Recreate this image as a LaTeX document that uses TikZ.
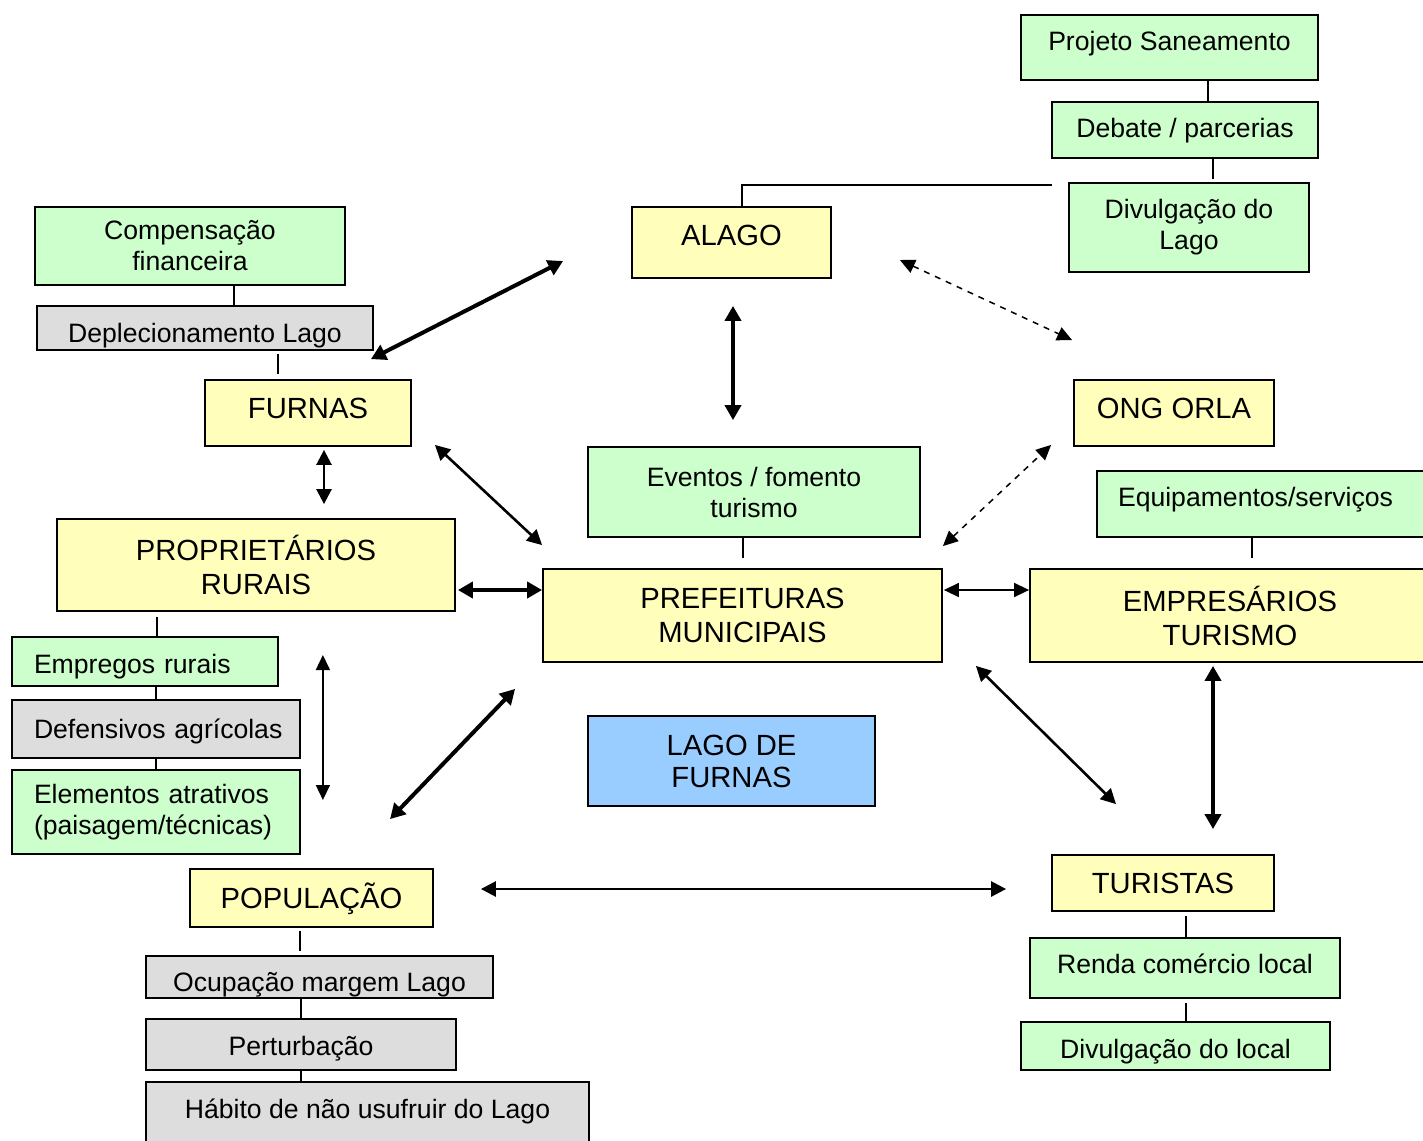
\documentclass[tikz,border=0pt]{standalone}
\usepackage{fontspec}
\setmainfont{Liberation Sans}
\usetikzlibrary{arrows.meta,calc}
\definecolor{verde}{HTML}{CCFFCC}
\definecolor{amarelo}{HTML}{FFFFBB}
\definecolor{cinza}{HTML}{DDDDDD}
\definecolor{azul}{HTML}{99CCFF}

\begin{document}
\begin{tikzpicture}[x=0.5pt, y=-0.5pt,
    box/.style={rectangle, draw, line width=0.9pt, inner sep=0pt, align=center},
    actor/.style={box, fill=amarelo, font=\fontsize{14.6}{17}\selectfont},
    item/.style={box, fill=verde, font=\fontsize{13.3}{15.5}\selectfont},
    issue/.style={box, fill=cinza, font=\fontsize{13.3}{15.5}\selectfont},
    lake/.style={box, fill=azul, font=\fontsize{14.6}{16}\selectfont},
    link/.style={line width=0.7pt},
    arrowthin/.style={{Triangle[length=7.5pt,width=7pt]}-{Triangle[length=7.5pt,width=7pt]}, line width=0.75pt},
    arrowmid/.style={{Triangle[length=7.5pt,width=7.5pt]}-{Triangle[length=7.5pt,width=7.5pt]}, line width=1.3pt},
    arrowthick/.style={{Triangle[length=7.5pt,width=8pt]}-{Triangle[length=7.5pt,width=8pt]}, line width=2pt},
    arrowdash/.style={arrowthin, dashed}
]
    \useasboundingbox (0,0) rectangle (1423,1140);

    % Atores
    \node[actor, minimum width=99.5pt, minimum height=35.5pt, text height=10.45pt, text depth=7.5pt] (alago) at (731.5,242.5) {ALAGO};
    \node[actor, minimum width=103pt, minimum height=33pt, text height=10.45pt, text depth=5pt] (furnas) at (308,413) {FURNAS};
    \node[actor, minimum width=100pt, minimum height=33pt, text height=10.45pt, text depth=5pt] (ong) at (1174,413) {ONG ORLA};
    \node[actor, minimum width=199pt, minimum height=46pt] (propriet) at (256,565) {PROPRIETÁRIOS\\RURAIS};
    \node[actor, minimum width=199.5pt, minimum height=46.5pt] (prefeit) at (742.5,615.5) {PREFEITURAS\\MUNICIPAIS};
    \node[actor, minimum width=200pt, minimum height=46.5pt] (empres) at (1230,615.5) {EMPRESÁRIOS\\TURISMO};
    \node[actor, minimum width=121.5pt, minimum height=29pt, text height=10.45pt, text depth=0pt] (popul) at (311.5,898) {POPULAÇÃO};
    \node[actor, minimum width=111pt, minimum height=28pt, text height=10.45pt, text depth=0pt] (turist) at (1163,883) {TURISTAS};
    \node[lake, minimum width=143.5pt, minimum height=45pt] (lago) at (731.5,761) {LAGO DE\\FURNAS};

    % Aspectos
    \node[item, minimum width=148.5pt, minimum height=32.5pt, text height=9.5pt, text depth=6.5pt] (saneam) at (1169.5,47.5) {Projeto Saneamento};
    \node[item, minimum width=133pt, minimum height=28pt, text height=9.5pt, text depth=2pt] (debate) at (1185,130) {Debate / parcerias};
    \node[item, minimum width=120pt, minimum height=44.5pt] (divlago) at (1189,227.5) {Divulgação do\\Lago};
    \node[item, minimum width=155pt, minimum height=39pt] (compens) at (190,246) {Compensação\\financeira};
    \node[issue, minimum width=168pt, minimum height=22pt, text height=14.5pt, text depth=0pt] (deplec) at (205,328) {Deplecionamento Lago};
    \node[item, minimum width=166pt, minimum height=45pt] (eventos) at (754,492) {Eventos / fomento\\turismo};
    \node[item, minimum height=33pt, inner xsep=10.5pt, text width=145.5pt, align=left, text height=9.5pt, text depth=7pt] (equip) at (1263.5,504) {Equipamentos/serviços};
    \node[item, minimum height=24.5pt, inner xsep=11pt, text width=111pt, align=left, text height=12pt, text depth=0pt] (empregos) at (145,661.5) {\mbox{Empregos rurais}};
    \node[issue, minimum height=29pt, inner xsep=11pt, text width=122pt, align=left, text height=9.5pt, text depth=0pt] (defens) at (156,729) {\mbox{Defensivos agrícolas}};
    \node[item, minimum height=42pt, inner xsep=11pt, text width=122pt, align=left] (element) at (156,812) {\mbox{Elementos atrativos}\\\mbox{(paisagem/técnicas)}};
    \node[issue, minimum width=173.5pt, minimum height=21pt, text height=14.5pt, text depth=0pt] (ocupa) at (319.5,977) {Ocupação margem Lago};
    \node[issue, minimum width=155pt, minimum height=25.5pt, text height=11pt, text depth=0pt] (perturb) at (301,1044.5) {Perturbação};
    \node[issue, minimum width=221.5pt, minimum height=34pt, text height=9.5pt, text depth=7pt] (habito) at (367.5,1116) {Hábito de não usufruir do Lago};
    \node[item, minimum width=155pt, minimum height=30pt, text height=9.5pt, text depth=4pt] (renda) at (1185,968) {Renda comércio local};
    \node[item, minimum width=154.5pt, minimum height=24pt, text height=12.5pt, text depth=0pt] (divlocal) at (1175.5,1046) {Divulgação do local};

    % Ligações
    \draw[link] ([xshift=11.5pt]debate.north) -- ([xshift=11.5pt]debate.north |- saneam.south);
    \draw[link, shorten <=1.5pt] ([xshift=12pt]divlago.north) -- ([xshift=12pt]divlago.north |- debate.south);
    \draw[link] ([xshift=5.25pt]alago.north) |- ($(divlago.north west)+(-16,3)$);
    \draw[link] ([xshift=22pt]compens.south) -- ([xshift=22pt]compens.south |- deplec.north);
    \draw[link, shorten <=1.5pt, shorten >=2.5pt] ([xshift=-15pt]furnas.north |- deplec.south) -- ([xshift=-15pt]furnas.north);
    \draw[link, shorten >=5pt] ([xshift=-5.5pt]eventos.south) -- ([xshift=-5.5pt]eventos.south |- prefeit.north);
    \draw[link, shorten >=5pt] ([xshift=-5.75pt]equip.south) -- ([xshift=-5.75pt]equip.south |- empres.north);
    \draw[link, shorten <=2.5pt] ([xshift=6pt]empregos.north |- propriet.south) -- ([xshift=6pt]empregos.north);
    \draw[link] (defens.north |- empregos.south) -- (defens.north);
    \draw[link] (element.north |- defens.south) -- (element.north);
    \draw[link, shorten <=1.5pt, shorten >=2pt] ([xshift=-5.75pt]popul.south) -- ([xshift=-5.75pt]popul.south |- ocupa.north);
    \draw[link] (perturb.north |- ocupa.south) -- (perturb.north);
    \draw[link] (perturb.south) -- (perturb.south |- habito.north);
    \draw[link, shorten <=2pt] ([xshift=0.5pt]renda.north |- turist.south) -- ([xshift=0.5pt]renda.north);
    \draw[link, shorten <=2pt] ([xshift=0.5pt]renda.south) -- ([xshift=0.5pt]renda.south |- divlocal.north);

    % Relações
    \draw[arrowthick] ($(furnas.north east)+(-41,-20)$) -- ($(alago.west)+(-68,18.5)$);
    \draw[arrowthick] ($(alago.south)+(1.5,27)$) -- ($(eventos.north)+(-21,-26)$);
    \draw[arrowdash] ($(alago.east)+(68,17.5)$) -- ($(ong.north west)+(-1,-39)$);
    \draw[arrowmid] ($(furnas.south east)+(23,-2)$) -- ($(prefeit.north west)+(0,-23)$);
    \draw[arrowmid] ($(furnas.south)+(16,3)$) -- ($(propriet.north)+(68,-14)$);
    \draw[arrowthick] ($(propriet.east)+(2,25)$) -- ($(prefeit.west)+(0,-25.5)$);
    \draw[arrowdash] ($(prefeit.north east)+(0,-22)$) -- ($(ong.south west)+(-22,-2)$);
    \draw[arrowthin] ($(prefeit.east)+(1,-25.5)$) -- ($(empres.west)+(0,-25.5)$);
    \draw[arrowthin] ($(defens.east)+(22,-74)$) -- ($(defens.east)+(22,71)$);
    \draw[arrowthick] ($(prefeit.south west)+(-27,26)$) -- ($(popul.north)+(78.5,-49)$);
    \draw[arrowmid] ($(prefeit.south east)+(33,3)$) -- ($(turist.north)+(-47,-50)$);
    \draw[arrowthick] ($(empres.south)+(-17,3)$) -- ($(turist.north)+(50,-25)$);
    \draw[arrowmid] ($(popul.east)+(47,-9)$) -- ($(turist.west)+(-45,6)$);
\end{tikzpicture}
\end{document}
